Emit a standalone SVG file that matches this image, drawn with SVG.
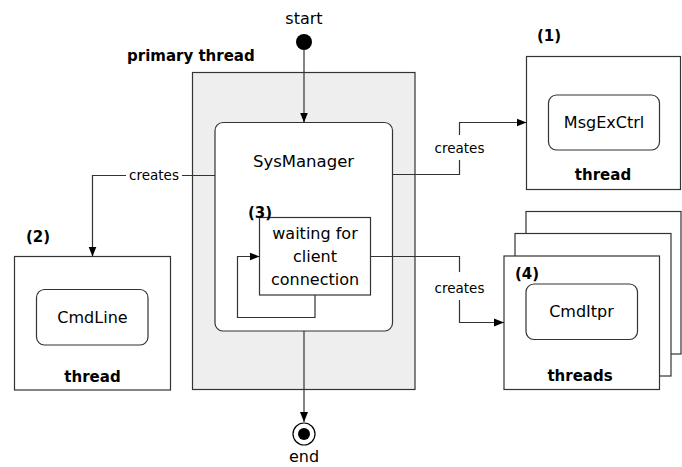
<svg xmlns="http://www.w3.org/2000/svg" width="682" height="467" viewBox="0 0 682 467">
  <style>
    text { font-family: "DejaVu Sans", "Liberation Sans", sans-serif; fill: #000; }
    .lbl { font-size: 16px; text-anchor: middle; }
    .small { font-size: 13.5px; text-anchor: middle; }
    .bold { font-size: 15px; font-weight: bold; }
    .mid { text-anchor: middle; }
    .box { fill: #fff; stroke: #333; stroke-width: 1.2; }
    .edge { fill: none; stroke: #333; stroke-width: 1.2; }
  </style>
  <defs>
    <marker id="arrow" viewBox="0 0 10 10" refX="10" refY="5" markerWidth="10" markerHeight="10" markerUnits="userSpaceOnUse" orient="auto">
      <path d="M0,1 L10,5 L0,9 Z" fill="#000"/>
    </marker>
  </defs>

  <rect width="682" height="467" fill="#fff"/>

  <!-- primary thread container -->
  <g id="primary-thread">
    <rect x="192.5" y="72.5" width="222.5" height="317" fill="#eeeeee" stroke="#333" stroke-width="1.2"/>
    <text class="bold" x="127" y="61">primary thread</text>
  </g>

  <!-- start node -->
  <g id="start">
    <circle cx="304" cy="42" r="8" fill="#000"/>
    <text class="lbl" x="304" y="24">start</text>
  </g>

  <!-- end node -->
  <g id="end">
    <circle cx="304" cy="434" r="11" fill="#fff" stroke="#000" stroke-width="1.2"/>
    <circle cx="304" cy="434" r="6" fill="#000"/>
    <text class="lbl" x="304" y="462">end</text>
  </g>

  <!-- SysManager state -->
  <g id="sysmanager">
    <rect class="box" x="215" y="122.5" width="177.5" height="208.5" rx="8"/>
    <text class="lbl" x="303.5" y="167" style="font-size:16.5px">SysManager</text>
  </g>

  <!-- waiting for client connection -->
  <g id="waiting">
    <rect class="box" x="259.5" y="217.5" width="111" height="77.5"/>
    <text class="lbl" x="315" y="239">waiting for</text>
    <text class="lbl" x="315" y="262">client</text>
    <text class="lbl" x="315" y="284.5">connection</text>
    <text class="bold" x="248" y="218">(3)</text>
  </g>

  <!-- MsgExCtrl thread -->
  <g id="msgexctrl">
    <rect class="box" x="526.5" y="56.5" width="154" height="133"/>
    <rect class="box" x="548.5" y="95" width="111" height="55" rx="8"/>
    <text class="lbl" x="604" y="128">MsgExCtrl</text>
    <text class="bold mid" x="603" y="180">thread</text>
    <text class="bold" x="537" y="41">(1)</text>
  </g>

  <!-- CmdLine thread -->
  <g id="cmdline">
    <rect class="box" x="14.5" y="256.5" width="156" height="133.5"/>
    <rect class="box" x="36.5" y="289.5" width="111.5" height="55.5" rx="8"/>
    <text class="lbl" x="92.5" y="323">CmdLine</text>
    <text class="bold mid" x="92.5" y="382">thread</text>
    <text class="bold" x="26" y="242">(2)</text>
  </g>

  <!-- CmdItpr threads (stacked) -->
  <g id="cmditpr">
    <rect class="box" x="526" y="211.5" width="155" height="142.5"/>
    <rect class="box" x="515" y="233.5" width="156" height="142.5"/>
    <rect class="box" x="504" y="256" width="155.5" height="133.5"/>
    <rect class="box" x="526" y="284" width="111.5" height="55.5" rx="8"/>
    <text class="lbl" x="581.5" y="317">CmdItpr</text>
    <text class="bold mid" x="580" y="381">threads</text>
    <text class="bold" x="515" y="279">(4)</text>
  </g>

  <!-- connectors -->
  <g id="connectors">
    <!-- start to SysManager -->
    <path class="edge" d="M304,50 V122.5" marker-end="url(#arrow)"/>
    <!-- SysManager to end -->
    <path class="edge" d="M304,331 V422" marker-end="url(#arrow)"/>
    <!-- creates MsgExCtrl -->
    <path class="edge" d="M392.5,174.5 H459.5 V160 M459.5,135 V122.5 H526.5" marker-end="url(#arrow)"/>
    <!-- creates CmdLine -->
    <path class="edge" d="M215,175.5 H182 M126,175.5 H92.5 V256.5" marker-end="url(#arrow)"/>
    <!-- creates CmdItpr -->
    <path class="edge" d="M370.5,256.5 H459.5 V272 M459.5,300 V322.5 H504" marker-end="url(#arrow)"/>
    <!-- self loop on waiting state -->
    <path class="edge" d="M315,295 V317.5 H237.5 V256.5 H259.5" marker-end="url(#arrow)"/>
    <text class="small" x="459.5" y="153">creates</text>
    <text class="small" x="154" y="180">creates</text>
    <text class="small" x="459.5" y="293">creates</text>
  </g>
</svg>
